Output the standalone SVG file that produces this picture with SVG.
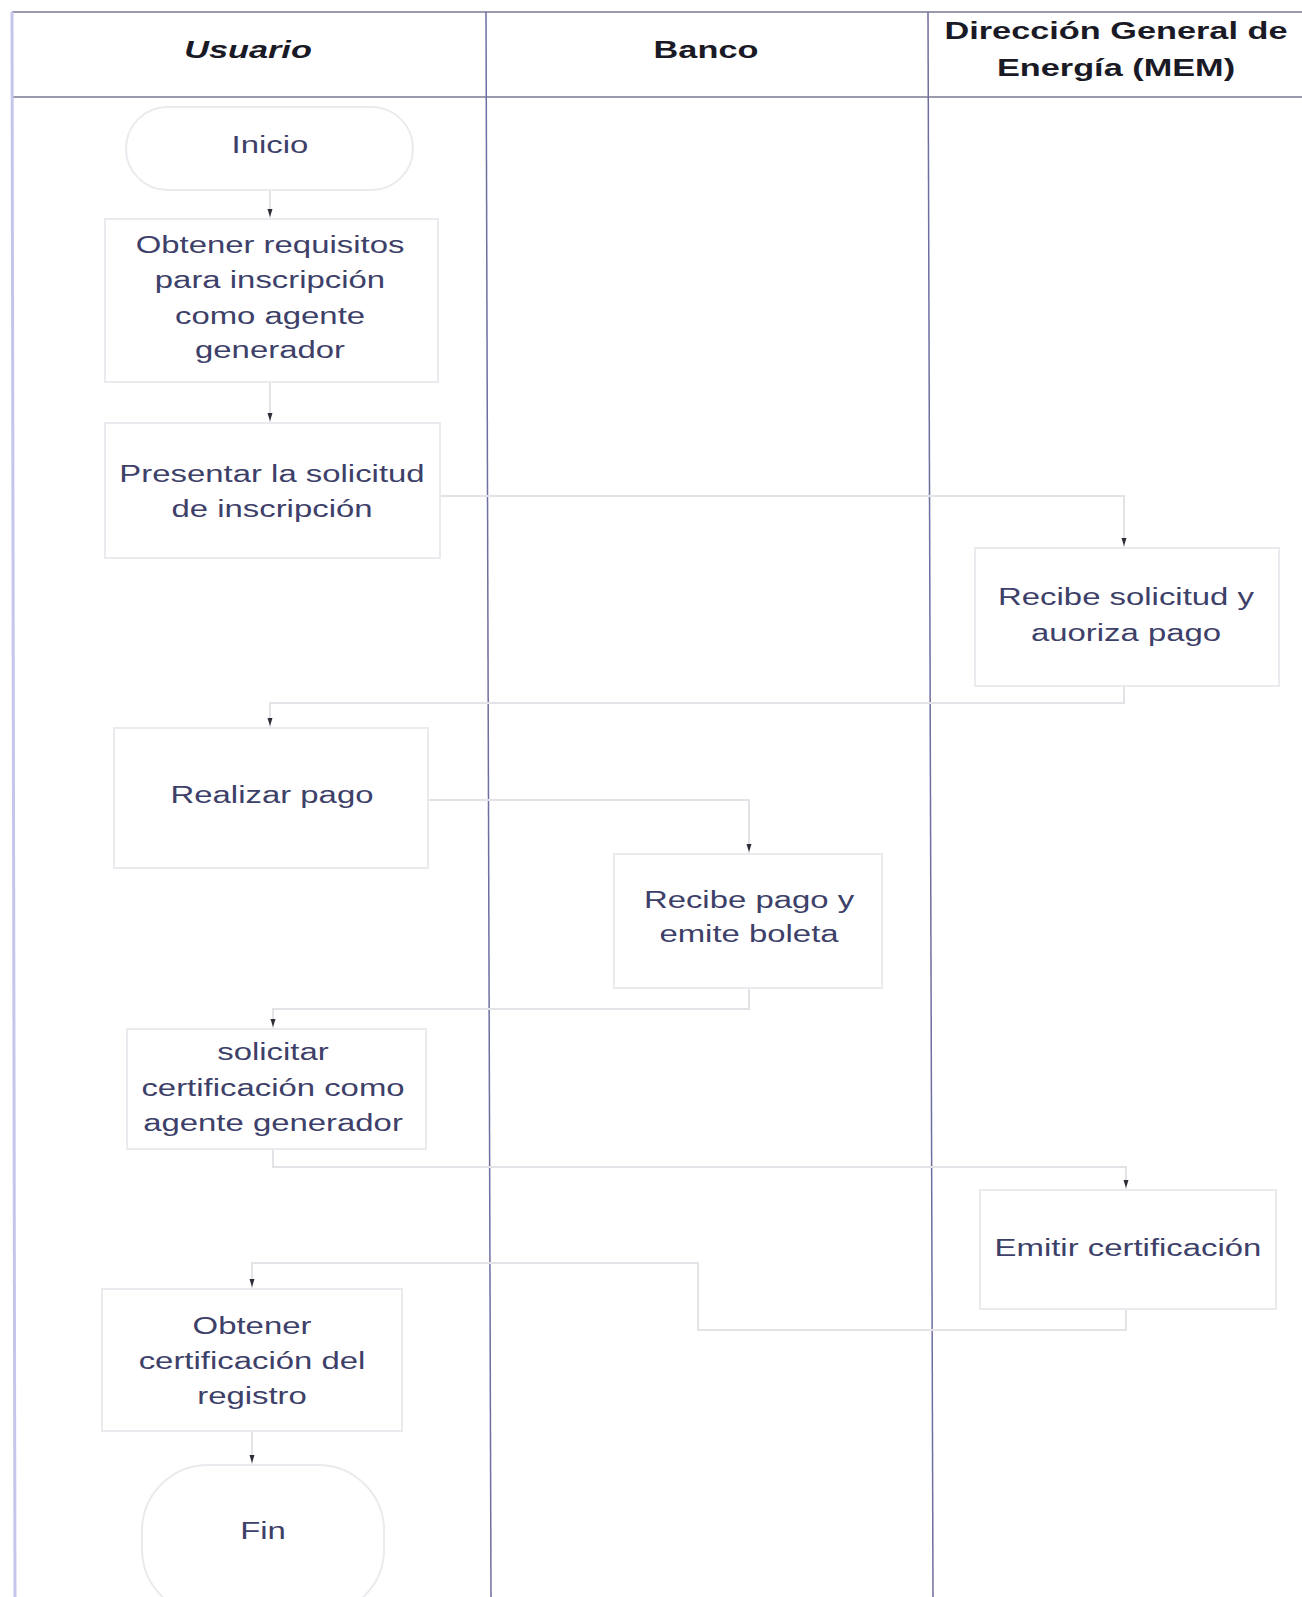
<svg xmlns="http://www.w3.org/2000/svg" width="1302" height="1597" viewBox="0 0 1302 1597">
  <style>
    .frame { stroke: #9a9aae; stroke-width: 2; }
    .lane { stroke: #6e6ea0; stroke-width: 1.5; }
    .edgeL { stroke: #c6c6ec; stroke-width: 3; }
    .hdr { font-family: "Liberation Sans", Arial, sans-serif; font-weight: bold; font-size: 24.5px; fill: #1a1a26; text-anchor: middle; }
    .lbl { font-family: "Liberation Sans", Arial, sans-serif; font-size: 23.5px; fill: #3d4068; text-anchor: middle; }
    .box { fill: #ffffff; stroke: #eaeaef; stroke-width: 2; }
    .edge { fill: none; stroke: #e2e2e7; stroke-width: 2; marker-end: url(#arr); }
  </style>
  <defs>
    <marker id="arr" markerUnits="userSpaceOnUse" markerWidth="8" markerHeight="6" refX="10" refY="3" orient="auto" viewBox="0 0 8 6">
      <path d="M0,0.5 L8,3 L0,5.5 z" fill="#2e2e38"/>
    </marker>
  </defs>
  <rect width="1302" height="1597" fill="#ffffff"/>

  <!-- swimlane frame -->
  <g id="lanes">
    <line class="frame" x1="12" y1="12" x2="1302" y2="12"/>
    <line class="frame" x1="12" y1="97" x2="1302" y2="97" stroke="#7a7a92"/>
    <line class="edgeL" x1="12" y1="12" x2="15" y2="1597"/>
    <line class="lane" x1="486" y1="12" x2="491" y2="1597"/>
    <line class="lane" x1="928" y1="12" x2="933" y2="1597"/>
    <g transform="translate(248 0) scale(1.4 1)">
      <text class="hdr" x="0" y="58" font-style="italic">Usuario</text>
    </g>
    <g transform="translate(706 0) scale(1.4 1)">
      <text class="hdr" x="0" y="58">Banco</text>
    </g>
    <g transform="translate(1116 0) scale(1.4 1)">
      <text class="hdr" x="0" y="39">Dirección General de</text>
      <text class="hdr" x="0" y="76">Energía (MEM)</text>
    </g>
  </g>

  <!-- connectors -->
  <g id="connectors">
    <path class="edge" d="M270,190 V219"/>
    <path class="edge" d="M270,382 V423"/>
    <path class="edge" d="M440,496 H1124 V548"/>
    <path class="edge" d="M1124,686 V703 H270 V728"/>
    <path class="edge" d="M428,800 H749 V854"/>
    <path class="edge" d="M749,988 V1009 H273 V1029"/>
    <path class="edge" d="M273,1149 V1167 H1126 V1190"/>
    <path class="edge" d="M1126,1309 V1330 H698 V1263 H252 V1289"/>
    <path class="edge" d="M252,1431 V1465"/>
  </g>

  <!-- nodes -->
  <g id="inicio">
    <rect class="box" x="126" y="107" width="287" height="83" rx="41.5"/>
    <g transform="translate(270 0) scale(1.4 1)">
      <text class="lbl" x="0" y="153">Inicio</text>
    </g>
  </g>

  <g id="obtener-requisitos">
    <rect class="box" x="105" y="219" width="333" height="163"/>
    <g transform="translate(270 0) scale(1.4 1)">
      <text class="lbl" x="0" y="253">Obtener requisitos</text>
      <text class="lbl" x="0" y="288">para inscripción</text>
      <text class="lbl" x="0" y="324">como agente</text>
      <text class="lbl" x="0" y="358">generador</text>
    </g>
  </g>

  <g id="presentar-solicitud">
    <rect class="box" x="105" y="423" width="335" height="135" stroke="#f2f2f5"/>
    <g transform="translate(272 0) scale(1.4 1)">
      <text class="lbl" x="0" y="482">Presentar la solicitud</text>
      <text class="lbl" x="0" y="517">de inscripción</text>
    </g>
  </g>

  <g id="recibe-solicitud">
    <rect class="box" x="975" y="548" width="304" height="138"/>
    <g transform="translate(1126 0) scale(1.4 1)">
      <text class="lbl" x="0" y="605">Recibe solicitud y</text>
      <text class="lbl" x="0" y="641">auoriza pago</text>
    </g>
  </g>

  <g id="realizar-pago">
    <rect class="box" x="114" y="728" width="314" height="140"/>
    <g transform="translate(272 0) scale(1.4 1)">
      <text class="lbl" x="0" y="803">Realizar pago</text>
    </g>
  </g>

  <g id="recibe-pago">
    <rect class="box" x="614" y="854" width="268" height="134"/>
    <g transform="translate(749 0) scale(1.4 1)">
      <text class="lbl" x="0" y="908">Recibe pago y</text>
      <text class="lbl" x="0" y="942">emite boleta</text>
    </g>
  </g>

  <g id="solicitar-certificacion">
    <rect class="box" x="127" y="1029" width="299" height="120"/>
    <g transform="translate(273 0) scale(1.4 1)">
      <text class="lbl" x="0" y="1060">solicitar</text>
      <text class="lbl" x="0" y="1096">certificación como</text>
      <text class="lbl" x="0" y="1131">agente generador</text>
    </g>
  </g>

  <g id="emitir-certificacion">
    <rect class="box" x="980" y="1190" width="296" height="119"/>
    <g transform="translate(1128 0) scale(1.4 1)">
      <text class="lbl" x="0" y="1256">Emitir certificación</text>
    </g>
  </g>

  <g id="obtener-certificacion">
    <rect class="box" x="102" y="1289" width="300" height="142"/>
    <g transform="translate(252 0) scale(1.4 1)">
      <text class="lbl" x="0" y="1334">Obtener</text>
      <text class="lbl" x="0" y="1369">certificación del</text>
      <text class="lbl" x="0" y="1404">registro</text>
    </g>
  </g>

  <g id="fin">
    <rect class="box" x="142" y="1465" width="242" height="150" rx="66"/>
    <g transform="translate(263 0) scale(1.4 1)">
      <text class="lbl" x="0" y="1539">Fin</text>
    </g>
  </g>
</svg>
